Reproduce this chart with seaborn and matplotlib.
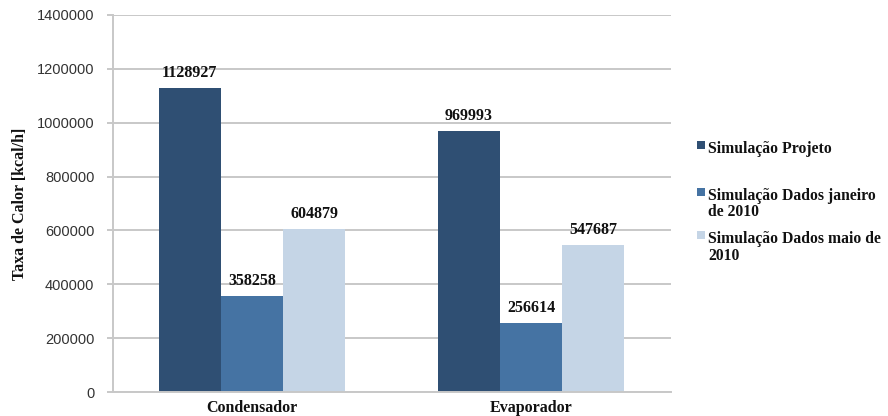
import matplotlib
matplotlib.use("Agg")
import matplotlib.pyplot as plt
from matplotlib.patches import Rectangle
import seaborn as sns
import pandas as pd

categories = ["Condensador", "Evaporador"]
series = ["Simulação Projeto", "Simulação Dados janeiro\nde 2010", "Simulação Dados maio de\n2010"]
projeto = [1128927, 969993]
janeiro = [358258, 256614]
maio = [604879, 547687]
yticks = [0, 200000, 400000, 600000, 800000, 1000000, 1200000, 1400000]

colors = ["#2F4F73", "#4573A3", "#C5D5E6"]

rows = []
for s, vals in zip(series, [projeto, janeiro, maio]):
    for c, v in zip(categories, vals):
        rows.append({"cat": c, "serie": s, "valor": v})
df = pd.DataFrame(rows)

sns.set_theme(style="white")
serif = ["Liberation Serif", "DejaVu Serif"]
sans = ["Liberation Sans", "DejaVu Sans"]

W, H = 888, 416
fig = plt.figure(figsize=(W / 100, H / 100), dpi=100)
ax = fig.add_axes([112.5 / W, 24 / H, 558 / W, 377 / H])

sns.barplot(data=df, x="cat", y="valor", hue="serie", order=categories,
            hue_order=series, palette=colors, width=0.67, saturation=1,
            errorbar=None, ax=ax, legend=False, linewidth=0, edgecolor="none")

for cont in ax.containers:
    ax.bar_label(cont, fmt="%d", padding=5, fontsize=11.5, fontweight="bold",
                 family=serif, color="#111111")

ax.set_ylim(0, 1400000)
ax.set_yticks(yticks)
ax.set_yticklabels([str(t) for t in yticks], family=sans, fontsize=10.5, color="#333333")
ax.set_xticks(range(len(categories)))
ax.set_xticklabels(categories, family=serif, fontsize=11.5, fontweight="bold", color="#111111")
ax.set_xlabel("")
ax.set_ylabel("Taxa de Calor [kcal/h]", family=serif, fontsize=11.5, fontweight="bold",
              color="#111111", labelpad=6)

ax.yaxis.grid(True, color="#C8C8C8", linewidth=1.4)
ax.set_axisbelow(True)
for side in ["top", "right"]:
    ax.spines[side].set_visible(False)
ax.spines["left"].set_color("#C8C8C8")
ax.spines["left"].set_linewidth(1.4)
ax.spines["bottom"].set_color("#C8C8C8")
ax.spines["bottom"].set_linewidth(1.4)
ax.tick_params(axis="y", length=4, color="#C8C8C8", width=1.4, pad=9, left=True)
ax.tick_params(axis="x", length=0, pad=6)

# legend, handles aligned with the first line of each label (as in the reference)
first_baselines = [153, 200, 243]
line_step = 16.5
for label, col, base in zip(series, colors, first_baselines):
    fig.add_artist(Rectangle((697 / W, 1 - (base - 4) / H), 8 / W, 8 / H,
                             transform=fig.transFigure, facecolor=col,
                             edgecolor="none"))
    for i, line in enumerate(label.split("\n")):
        fig.text(708 / W, 1 - (base + i * line_step) / H, line, ha="left",
                 va="baseline", family=serif, fontweight="bold", fontsize=11.3,
                 color="#111111")

fig.savefig("out.png", dpi=100)
